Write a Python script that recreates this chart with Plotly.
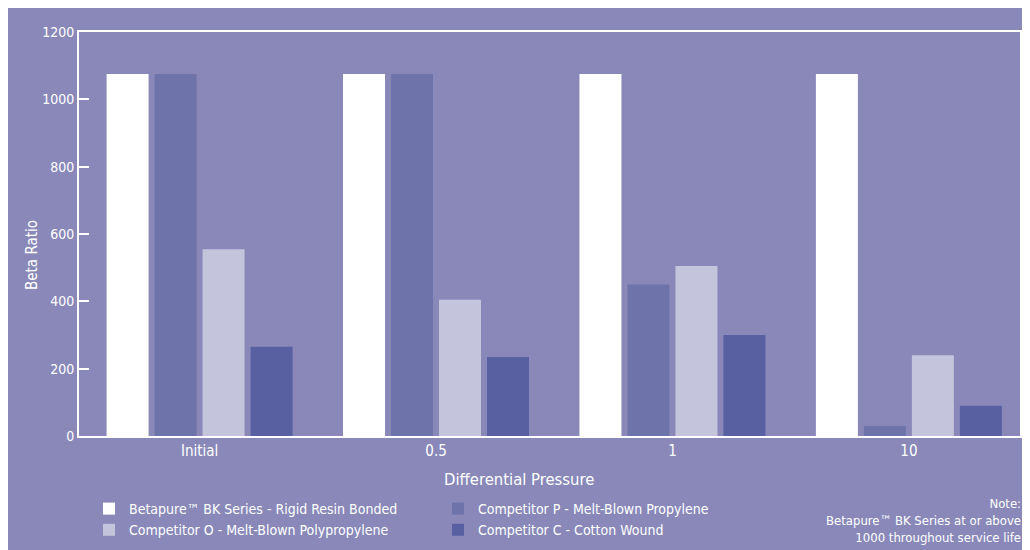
import plotly.graph_objects as go

categories = ["Initial", "0.5", "1", "10"]
series_names = [
    "Betapure\u2122 BK Series - Rigid Resin Bonded",
    "Competitor P - Melt-Blown Propylene",
    "Competitor O - Melt-Blown Polypropylene",
    "Competitor C - Cotton Wound",
]
betapure = [1075, 1075, 1075, 1075]
competitor_p = [1075, 1075, 450, 30]
competitor_o = [555, 405, 505, 240]
competitor_c = [265, 235, 300, 90]
y_ticks = [0, 200, 400, 600, 800, 1000, 1200]

colors = ["#FFFFFF", "#6E73AA", "#C4C4DC", "#5860A1"]
BG = "#8988B9"
TXT = "#FFFFFF"
FONT = "Liberation Sans Narrow, DejaVu Sans Condensed, Roboto, sans-serif"

# plot area in figure pixels
L, T, R, B = 71, 24, 1012, 428
W, H = R - L, B - T


def px(x):
    return (x - L) / W


def py(y):
    return (B - y) / H


fig = go.Figure()
for name, vals, col in zip(series_names, [betapure, competitor_p, competitor_o, competitor_c], colors):
    fig.add_trace(go.Bar(x=categories, y=vals, name=name, marker=dict(color=col, line=dict(width=0))))

fig.update_layout(
    width=1030, height=550,
    margin=dict(l=L, r=1030 - R, t=T, b=550 - B, autoexpand=False),
    paper_bgcolor=BG, plot_bgcolor=BG,
    barmode="group", bargap=0.188, bargroupgap=0.125,
    font=dict(family=FONT, color=TXT, size=15),
    showlegend=True,
    legend=dict(
        orientation="h", x=px(81), xanchor="left", y=py(485), yanchor="top",
        entrywidth=304, entrywidthmode="pixels",
        font=dict(size=14, color=TXT), bgcolor="rgba(0,0,0,0)",
        itemwidth=30, tracegroupgap=0,
    ),
    xaxis=dict(
        type="category", range=[-0.51, 3.47],
        showline=True, linecolor="#FFFFFF", linewidth=2, mirror=True,
        ticks="", showgrid=False, zeroline=False,
        tickfont=dict(size=15, color=TXT, family=FONT),
    ),
    yaxis=dict(
        range=[0, 1200], tickvals=y_ticks,
        showline=True, linecolor="#FFFFFF", linewidth=2, mirror=True,
        ticks="inside", ticklen=10, tickcolor="#FFFFFF", tickwidth=1.5,
        showgrid=False, zeroline=False,
        tickfont=dict(size=14, color=TXT, family=FONT),
    ),
    annotations=[
        dict(text="Differential Pressure", xref="paper", yref="paper", x=px(511), y=py(471),
             xanchor="center", yanchor="middle", showarrow=False, font=dict(size=16.5, color=TXT)),
        dict(text="Beta Ratio", xref="paper", yref="paper", x=px(24), y=py(247),
             xanchor="center", yanchor="middle", textangle=-90, showarrow=False, font=dict(size=15, color=TXT)),
        dict(text="Note:<br>Betapure\u2122 BK Series at or above<br>1000 throughout service life",
             xref="paper", yref="paper", x=px(1015), y=py(486),
             xanchor="right", yanchor="top", align="right", showarrow=False,
             font=dict(size=13, color=TXT)),
    ],
)

fig.write_html("out.html")
